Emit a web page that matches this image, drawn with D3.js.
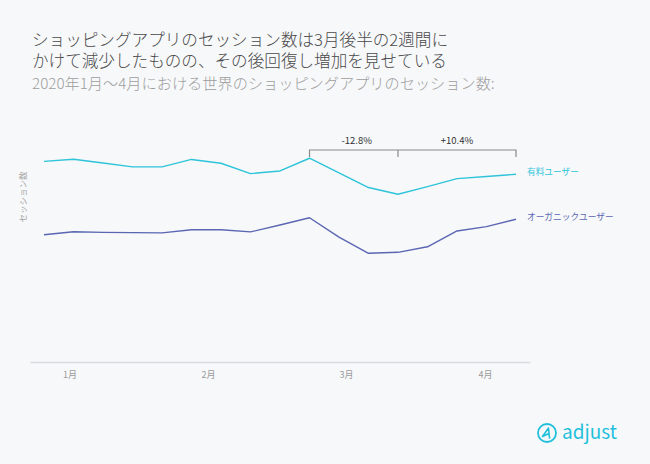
<!DOCTYPE html>
<html><head><meta charset="utf-8">
<script src="https://cdn.jsdelivr.net/npm/d3@7"></script>
<style>
html,body{margin:0;padding:0;background:#f7f8fa;}
svg{display:block;}
text{font-family:"Noto Sans CJK JP","Noto Sans",sans-serif;}
</style></head>
<body><svg id="c" width="650" height="464"></svg>
<script>
// ---- data ----
const weeks = d3.range(0, 17); // weekly points, Jan–Apr 2020
const paidUsers =    [83.6,84.5,82.9,81.3,81.3,84.4,82.8,78.5,79.6,84.9,78.8,72.7,69.9,73.1,76.4,77.3,78.2];
const organicUsers = [53.0,54.3,54.0,53.9,53.8,55.1,55.1,54.2,57.1,60.1,52.0,45.3,45.7,48.0,54.6,56.4,59.5];
const monthTicks = [0.86, 5.56, 10.24, 14.95];
const monthLabels = ["1月","2月","3月","4月"];
const seriesNames = ["有料ユーザー","オーガニックユーザー"];
const changeLabels = ["-12.8%","+10.4%"];
const bracketWeeks = [9, 12, 16];
const titleLines = ["ショッピングアプリのセッション数は3月後半の2週間に","かけて減少したものの、その後回復し増加を見せている"];
const subtitle = "2020年1月〜4月における世界のショッピングアプリのセッション数:";
const yLabel = "セッション数";

const svg = d3.select("#c");
svg.append("rect").attr("width",650).attr("height",464).attr("fill","#f7f8fa");

const x = d3.scaleLinear().domain([-0.475, 16.475]).range([30, 530]);
const y = d3.scaleLinear().domain([0, 100]).range([362, 122]);

// titles
svg.selectAll("text.title").data(titleLines).join("text")
  .attr("class","title").attr("x",32).attr("y",(d,i)=>46+i*20.5)
  .attr("font-size",16.6).attr("font-weight",300).attr("fill","#4a4a4a").text(d=>d);
svg.append("text").attr("x",32).attr("y",88.5).attr("font-size",15.2).attr("font-weight",300)
  .attr("fill","#9d9d9d").text(subtitle);

// x axis
const xAxis = d3.axisBottom(x).tickValues(monthTicks)
  .tickFormat((d,i)=>monthLabels[i]).tickSize(0).tickPadding(10);
const gx = svg.append("g").attr("transform","translate(0,362)").call(xAxis);
gx.select(".domain").attr("stroke","#d9dadd").attr("stroke-width",1.5);
gx.selectAll("text").attr("font-size",9).attr("fill","#9a9a9a")
  .attr("font-family",'"Noto Sans CJK JP",sans-serif');

// y label
svg.append("text").attr("transform","translate(26,197) rotate(-90)")
  .attr("text-anchor","middle").attr("font-size",8.5).attr("fill","#a5a5a5").text(yLabel);

// lines
const colors = ["#2ec4da","#5b66b3"];
const line = d3.line().x((d,i)=>x(weeks[i])).y(d=>y(d));
[paidUsers, organicUsers].forEach((s,k)=>{
  svg.append("path").datum(s).attr("d",line).attr("fill","none")
    .attr("stroke",colors[k]).attr("stroke-width",1.4).attr("stroke-linejoin","round");
  svg.append("text").attr("x",x(weeks[weeks.length-1])+11).attr("y",y(s[s.length-1])-3)
    .attr("dominant-baseline","central").attr("font-size",8.7).attr("fill",colors[k])
    .text(seriesNames[k]);
});

// bracket annotation
const by = 150, bh = 7;
const bx = bracketWeeks.map(w=>x(w));
svg.append("path").attr("fill","none").attr("stroke","#8a8a8a").attr("stroke-width",1.2)
  .attr("d",`M${bx[0]},${by+bh}V${by}H${bx[2]}V${by+bh}M${bx[1]},${by}V${by+bh}`);
changeLabels.forEach((t,i)=>{
  svg.append("text").attr("x",(bx[i]+bx[i+1])/2 + (i===0?3:0)).attr("y",by-6)
    .attr("text-anchor","middle").attr("font-size",9.5).attr("fill","#333").text(t);
});

// adjust logo
const lg = svg.append("g").attr("transform","translate(547,433)");
lg.append("circle").attr("r",9).attr("fill","none").attr("stroke","#1fc0dc").attr("stroke-width",1.8);
lg.append("path").attr("d","M-4.5,3.5 L1.5,-5 L2.5,5 M-4.5,3.5 L2,0.5").attr("fill","none")
  .attr("stroke","#1fc0dc").attr("stroke-width",1.6).attr("stroke-linejoin","round").attr("stroke-linecap","round");
svg.append("text").attr("x",562).attr("y",439).attr("font-size",19)
  .attr("font-family","Lato, sans-serif").attr("font-weight",400)
  .attr("fill","#1fc0dc").text("adjust");
</script></body></html>
